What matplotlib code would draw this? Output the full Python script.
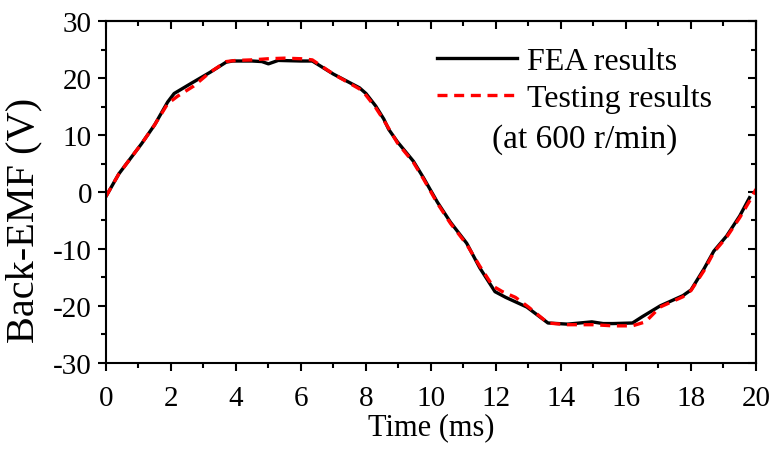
import numpy as np
import matplotlib.pyplot as plt
from matplotlib.ticker import MultipleLocator

# --- values ---
t_fea = [0, 0.4, 1.1, 1.5, 1.9, 2.1, 2.6, 3.2, 3.7, 3.9, 4.5, 4.8, 5.0, 5.3, 6.0,
         6.35, 7.0, 7.8, 8.0, 8.3, 8.55, 8.7, 8.97, 9.46, 9.77, 10.2, 10.6, 11.1,
         11.5, 11.97, 12.3, 12.95, 13.6, 14.2, 14.95, 15.3, 15.6, 16.2, 16.5,
         17.05, 17.75, 18.0, 18.4, 18.7, 19.1, 19.5, 19.8]
emf_fea = [-0.8, 3.2, 8.5, 11.8, 15.8, 17.3, 19.0, 21.0, 22.8, 23.0, 23.0, 22.9,
           22.5, 23.1, 23.0, 23.0, 20.7, 18.3, 17.3, 15.1, 12.8, 11.0, 8.8, 5.4,
           2.5, -1.8, -5.3, -9.0, -13.3, -17.5, -18.5, -20.2, -23.0, -23.2,
           -22.8, -23.1, -23.1, -23.0, -21.9, -20.0, -18.2, -17.2, -13.5, -10.4,
           -7.7, -4.2, -1.0]

t_test = [0, 0.4, 1.1, 1.5, 1.9, 2.2, 2.7, 3.2, 3.7, 4.0, 4.5, 5.0, 5.5, 6.0,
          6.35, 7.0, 7.8, 8.0, 8.3, 8.55, 8.97, 9.46, 9.77, 10.2, 10.6, 11.1,
          11.5, 11.9, 12.2, 12.6, 13.0, 13.6, 14.2, 15.0, 15.6, 16.2, 16.6,
          17.05, 17.75, 18.0, 18.4, 18.7, 19.1, 19.5, 19.8, 20.0]
emf_test = [-0.8, 3.2, 8.5, 11.8, 15.5, 16.8, 18.6, 21.0, 22.9, 23.1, 23.2, 23.4,
            23.5, 23.4, 23.2, 20.7, 18.1, 17.0, 14.8, 12.6, 8.6, 5.2, 2.3, -2.0,
            -5.5, -9.2, -13.0, -16.5, -17.5, -18.5, -20.2, -23.0, -23.3, -23.3,
            -23.5, -23.5, -22.8, -20.2, -18.4, -17.3, -13.8, -10.6, -7.9, -4.5,
            -1.6, 0.5]

x_ticks = np.arange(0, 21, 2)
y_ticks = np.arange(-30, 31, 10)

plt.rcParams['font.family'] = ['Liberation Serif', 'DejaVu Serif']
plt.rcParams['axes.unicode_minus'] = False

fig = plt.figure(figsize=(7.73, 4.52), dpi=100)
ax = fig.add_axes([0.137, 0.195, 0.841, 0.756])

ax.plot(t_fea, emf_fea, color='black', lw=2.4, label='FEA results')
ax.plot(t_test, emf_test, color='red', lw=2.4, ls=(0, (3.0, 2.0)), label='Testing results')

ax.set_xlim(0, 20)
ax.set_ylim(-30, 30)
ax.set_xticks(x_ticks)
ax.set_yticks(y_ticks)
ax.xaxis.set_minor_locator(MultipleLocator(1))
ax.yaxis.set_minor_locator(MultipleLocator(5))

for s in ax.spines.values():
    s.set_linewidth(1.5)
ax.tick_params(which='both', direction='out', width=1.5, labelsize=21, top=False, right=False)
ax.tick_params(which='major', length=6)
ax.tick_params(which='minor', length=3.5)
ax.tick_params(axis='x', which='major', pad=10)
ax.tick_params(axis='y', which='major', pad=4)

# mirrored ticks pointing inward on top and right
top = ax.secondary_xaxis('top')
top.set_xticks(x_ticks)
top.xaxis.set_minor_locator(MultipleLocator(1))
top.tick_params(which='both', direction='in', width=1.5, labeltop=False)
top.tick_params(which='major', length=6)
top.tick_params(which='minor', length=3.5)
top.spines['top'].set_linewidth(1.5)

right = ax.secondary_yaxis('right')
right.set_yticks(y_ticks)
right.yaxis.set_minor_locator(MultipleLocator(5))
right.tick_params(which='both', direction='in', width=1.5, labelright=False)
right.tick_params(which='major', length=6)
right.tick_params(which='minor', length=3.5)
right.spines['right'].set_linewidth(1.5)

ax.set_xlabel('Time (ms)', fontsize=22, labelpad=1)
ax.set_ylabel('Back-EMF (V)', fontsize=29)
ax.yaxis.set_label_coords(-0.098, 0.42)

ax.legend(loc='upper left', bbox_to_anchor=(0.510, 0.925), frameon=False,
          fontsize=23, handlelength=2.5, handletextpad=0.3, labelspacing=0.25,
          borderpad=0, borderaxespad=0)
ax.text(11.88, 9.4, '(at 600 r/min)', fontsize=24, ha='left', va='center')

fig.savefig('out.png', dpi=100)
